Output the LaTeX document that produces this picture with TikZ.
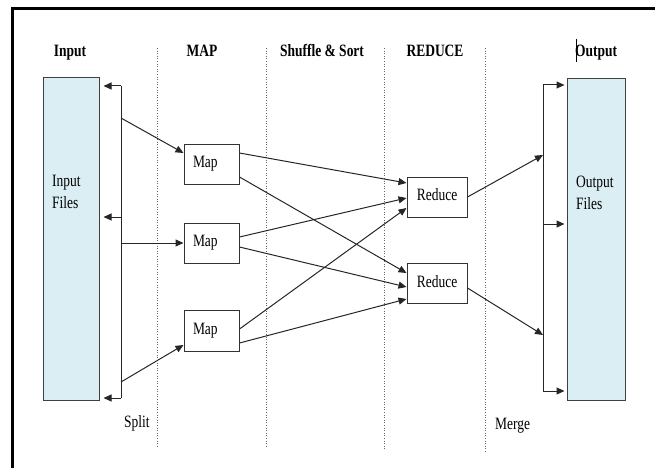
\documentclass[tikz,border=0pt]{standalone}
\usepackage{fontspec}
\setmainfont{Liberation Serif}[FakeStretch=0.78]
\usetikzlibrary{arrows.meta,calc}
\definecolor{filebg}{HTML}{DAEEF3}
\begin{document}
\begin{tikzpicture}[x=1pt,y=-1pt,
  every node/.style={font=\fontsize{17.3}{20}\selectfont},
  head/.style={font=\fontsize{17.3}{20}\selectfont\bfseries, anchor=base},
  plain/.style={anchor=base west, inner sep=0pt},
  filebox/.style={draw=black!75, line width=1pt, fill=filebg, inner sep=0pt},
  procbox/.style={draw=black!80, line width=1pt, fill=white, text height=11pt, text depth=4pt},
  mapbox/.style={procbox, minimum width=55pt, inner xsep=9pt, text width=37pt, align=left},
  conn/.style={draw=black!85, line width=1pt},
  arr/.style={conn, -{Triangle[length=8pt,width=7pt]}},
  sep/.style={draw=black!60, line width=0.6pt, dotted}
]
\useasboundingbox (0,0) rectangle (655,468);
% frame
\draw[line width=3pt] (12.5,468) -- (12.5,9) -- (655,9);
% separators
\draw[sep] (157,48) -- (157,447);
\draw[sep] (266,48) -- (266,447);
\draw[sep] (384,48) -- (384,450);
\draw[sep] (485,48) -- (485,452);
% headers
\node[head] (hin) at (70,57) {Input};
\node[head] (hmap) at (202,57) {MAP};
\node[head] (hshuf) at (322,57) {Shuffle \& Sort};
\node[head] (hred) at (435,57) {REDUCE};
\node[head] (hout) at (596,57) {Output};
\draw[line width=1pt] (576.5,39) -- (576.5,62);
% file boxes
\node[filebox, minimum width=56pt, minimum height=322pt] (inbox) at (71,239) {};
\node[filebox, minimum width=58pt, minimum height=321pt] (outbox) at (596,239.5) {};
\node[plain] (inl1) at (52,186) {Input};
\node[plain] (inl2) at (52,208) {Files};
\node[plain] (outl1) at (576,187) {Output};
\node[plain] (outl2) at (576,209) {Files};
% map and reduce boxes
\node[mapbox, minimum height=40pt] (map1) at (211.5,164) {Map};
\node[mapbox, minimum height=40pt] (map2) at (211.5,243) {Map};
\node[mapbox, minimum height=41pt] (map3) at (211.5,330.5) {Map};
\node[procbox, minimum width=60pt, minimum height=40pt] (red1) at (437,197) {Reduce};
\node[procbox, minimum width=60pt, minimum height=40pt] (red2) at (437,283.5) {Reduce};
% split bar
\coordinate (sT) at (121,86);
\coordinate (sM) at (121,217);
\coordinate (sB) at (121,398);
\coordinate (s1) at (121,118);
\coordinate (s2) at (121,243);
\coordinate (s3) at (121,382);
\draw[conn] (sT) -- (sB);
\draw[arr, shorten >=4pt] (sT) -- (inbox.east |- sT);
\draw[arr, shorten >=4pt] (sM) -- (inbox.east |- sM);
\draw[arr, shorten >=4pt] (sB) -- (inbox.east |- sB);
\draw[arr] (s1) -- ([yshift=11pt]map1.west);
\draw[arr] (s2) -- (map2.west);
\draw[arr] (s3) -- ([yshift=-14.5pt]map3.west);
% map to reduce
\draw[arr] ([yshift=11pt]map1.east) -- ([yshift=14pt]red1.west);
\draw[arr] ([yshift=-13pt]map1.east) -- ([yshift=10.5pt]red2.west);
\draw[arr] ([yshift=6pt]map2.east) -- ([yshift=-1pt]red1.west);
\draw[arr] ([yshift=-4pt]map2.east) -- ([yshift=-3.5pt]red2.west);
\draw[arr] ([yshift=1.5pt]map3.east) -- ([yshift=-11pt]red1.west);
\draw[arr] ([yshift=-12.5pt]map3.east) -- ([yshift=-15.5pt]red2.west);
% merge bar
\coordinate (mT) at (543,85);
\coordinate (mM) at (543,224);
\coordinate (mB) at (543,391);
\coordinate (m1) at (543,155);
\coordinate (m2) at (543,335);
\draw[conn] (mT) -- (mB);
\draw[arr] (red1.east) -- (m1);
\draw[arr] ([yshift=-4.5pt]red2.east) -- (m2);
\draw[arr, shorten >=2pt] (mT) -- (outbox.west |- mT);
\draw[arr, shorten >=2pt] (mM) -- (outbox.west |- mM);
\draw[arr, shorten >=2pt] (mB) -- (outbox.west |- mB);
% bottom labels
\node[plain] (split) at (124,427) {Split};
\node[plain] (merge) at (495,429) {Merge};
\end{tikzpicture}
\end{document}
